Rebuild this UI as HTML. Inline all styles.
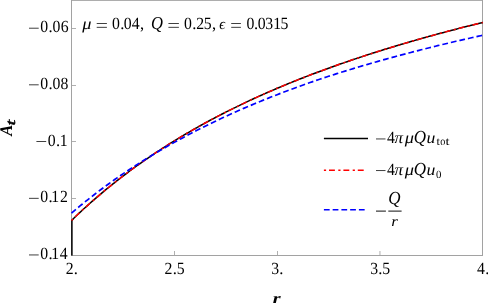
<!DOCTYPE html>
<html><head><meta charset="utf-8"><title>plot</title>
<style>html,body{margin:0;padding:0;background:#fff;}svg{display:block;will-change:transform;}text{font-family:"Liberation Serif",serif;fill:#000;text-rendering:geometricPrecision;}</style></head><body>
<svg width="488" height="304" viewBox="0 0 488 304">
<rect x="0" y="0" width="488" height="304" fill="#fff"/>
<g shape-rendering="crispEdges" fill="#a2a2a2">
<rect x="71" y="0" width="412" height="1" fill="#adadad"/>
<rect x="71" y="255" width="412" height="1"/>
<rect x="71" y="0" width="1" height="256"/>
<rect x="482" y="0" width="1" height="256"/>
<rect x="72" y="28" width="4" height="1" fill="#b0b0b0"/>
<rect x="72" y="85" width="4" height="1" fill="#b0b0b0"/>
<rect x="72" y="141" width="4" height="1" fill="#b0b0b0"/>
<rect x="72" y="198" width="4" height="1" fill="#b0b0b0"/>
<rect x="174" y="251" width="1" height="4" fill="#b0b0b0"/>
<rect x="277" y="251" width="1" height="4" fill="#b0b0b0"/>
</g>
<rect x="379.45" y="251" width="1" height="4" fill="#b0b0b0"/>
<g fill="none" stroke-linejoin="round">
<path d="M71.90 255.50 L71.90 220.45 L73.56 218.46 L75.61 216.49 L77.67 214.54 L79.73 212.61 L81.78 210.70 L83.84 208.81 L85.90 206.94 L87.95 205.09 L90.01 203.25 L92.07 201.43 L94.12 199.63 L96.18 197.85 L98.23 196.09 L100.29 194.34 L102.35 192.61 L104.40 190.89 L106.46 189.19 L108.52 187.51 L110.57 185.84 L112.63 184.19 L114.69 182.55 L116.74 180.93 L118.80 179.32 L120.86 177.73 L122.91 176.15 L124.97 174.59 L127.03 173.04 L129.08 171.50 L131.14 169.98 L133.19 168.47 L135.25 166.98 L137.31 165.50 L139.36 164.03 L141.42 162.57 L143.48 161.13 L145.53 159.70 L147.59 158.28 L149.65 156.88 L151.70 155.48 L153.76 154.10 L155.82 152.73 L157.87 151.37 L159.93 150.02 L161.99 148.69 L164.04 147.36 L166.10 146.05 L168.16 144.74 L170.21 143.45 L172.27 142.17 L174.32 140.90 L176.38 139.64 L178.44 138.38 L180.49 137.14 L182.55 135.91 L184.61 134.69 L186.66 133.48 L188.72 132.28 L190.78 131.09 L192.83 129.90 L194.89 128.73 L196.95 127.57 L199.00 126.41 L201.06 125.26 L203.12 124.13 L205.17 123.00 L207.23 121.88 L209.29 120.77 L211.34 119.66 L213.40 118.57 L215.46 117.48 L217.51 116.40 L219.57 115.33 L221.62 114.27 L223.68 113.22 L225.74 112.17 L227.79 111.13 L229.85 110.10 L231.91 109.08 L233.96 108.06 L236.02 107.05 L238.08 106.05 L240.13 105.06 L242.19 104.07 L244.25 103.09 L246.30 102.12 L248.36 101.15 L250.42 100.19 L252.47 99.24 L254.53 98.29 L256.58 97.35 L258.64 96.42 L260.70 95.50 L262.75 94.58 L264.81 93.66 L266.87 92.76 L268.92 91.86 L270.98 90.96 L273.04 90.07 L275.09 89.19 L277.15 88.31 L279.21 87.44 L281.26 86.58 L283.32 85.72 L285.38 84.87 L287.43 84.02 L289.49 83.18 L291.55 82.34 L293.60 81.51 L295.66 80.69 L297.72 79.87 L299.77 79.05 L301.83 78.24 L303.88 77.44 L305.94 76.64 L308.00 75.85 L310.05 75.06 L312.11 74.28 L314.17 73.50 L316.22 72.72 L318.28 71.96 L320.34 71.19 L322.39 70.43 L324.45 69.68 L326.51 68.93 L328.56 68.19 L330.62 67.45 L332.68 66.71 L334.73 65.98 L336.79 65.25 L338.84 64.53 L340.90 63.81 L342.96 63.10 L345.01 62.39 L347.07 61.68 L349.13 60.98 L351.18 60.28 L353.24 59.58 L355.30 58.89 L357.35 58.20 L359.41 57.52 L361.47 56.84 L363.52 56.16 L365.58 55.49 L367.64 54.82 L369.69 54.15 L371.75 53.49 L373.81 52.83 L375.86 52.17 L377.92 51.52 L379.98 50.88 L382.03 50.23 L384.09 49.59 L386.14 48.95 L388.20 48.32 L390.26 47.69 L392.31 47.06 L394.37 46.44 L396.43 45.82 L398.48 45.20 L400.54 44.59 L402.60 43.98 L404.65 43.37 L406.71 42.77 L408.77 42.16 L410.82 41.57 L412.88 40.97 L414.94 40.38 L416.99 39.79 L419.05 39.21 L421.11 38.62 L423.16 38.04 L425.22 37.47 L427.27 36.89 L429.33 36.32 L431.39 35.76 L433.44 35.19 L435.50 34.63 L437.56 34.07 L439.61 33.51 L441.67 32.96 L443.73 32.41 L445.78 31.86 L447.84 31.32 L449.90 30.77 L451.95 30.23 L454.01 29.70 L456.07 29.16 L458.12 28.63 L460.18 28.10 L462.24 27.57 L464.29 27.05 L466.35 26.53 L468.40 26.01 L470.46 25.49 L472.52 24.98 L474.57 24.46 L476.63 23.96 L478.69 23.45 L480.74 22.94 L482.80 22.44" stroke="#000" stroke-width="1.5"/>
<path d="M71.50 220.45 L73.56 218.46 L75.61 216.49 L77.67 214.54 L79.73 212.61 L81.78 210.70 L83.84 208.81 L85.90 206.94 L87.95 205.09 L90.01 203.25 L92.07 201.43 L94.12 199.63 L96.18 197.85 L98.23 196.09 L100.29 194.34 L102.35 192.61 L104.40 190.89 L106.46 189.19 L108.52 187.51 L110.57 185.84 L112.63 184.19 L114.69 182.55 L116.74 180.93 L118.80 179.32 L120.86 177.73 L122.91 176.15 L124.97 174.59 L127.03 173.04 L129.08 171.50 L131.14 169.98 L133.19 168.47 L135.25 166.98 L137.31 165.50 L139.36 164.03 L141.42 162.57 L143.48 161.13 L145.53 159.70 L147.59 158.28 L149.65 156.88 L151.70 155.48 L153.76 154.10 L155.82 152.73 L157.87 151.37 L159.93 150.02 L161.99 148.69 L164.04 147.36 L166.10 146.05 L168.16 144.74 L170.21 143.45 L172.27 142.17 L174.32 140.90 L176.38 139.64 L178.44 138.38 L180.49 137.14 L182.55 135.91 L184.61 134.69 L186.66 133.48 L188.72 132.28 L190.78 131.09 L192.83 129.90 L194.89 128.73 L196.95 127.57 L199.00 126.41 L201.06 125.26 L203.12 124.13 L205.17 123.00 L207.23 121.88 L209.29 120.77 L211.34 119.66 L213.40 118.57 L215.46 117.48 L217.51 116.40 L219.57 115.33 L221.62 114.27 L223.68 113.22 L225.74 112.17 L227.79 111.13 L229.85 110.10 L231.91 109.08 L233.96 108.06 L236.02 107.05 L238.08 106.05 L240.13 105.06 L242.19 104.07 L244.25 103.09 L246.30 102.12 L248.36 101.15 L250.42 100.19 L252.47 99.24 L254.53 98.29 L256.58 97.35 L258.64 96.42 L260.70 95.50 L262.75 94.58 L264.81 93.66 L266.87 92.76 L268.92 91.86 L270.98 90.96 L273.04 90.07 L275.09 89.19 L277.15 88.31 L279.21 87.44 L281.26 86.58 L283.32 85.72 L285.38 84.87 L287.43 84.02 L289.49 83.18 L291.55 82.34 L293.60 81.51 L295.66 80.69 L297.72 79.87 L299.77 79.05 L301.83 78.24 L303.88 77.44 L305.94 76.64 L308.00 75.85 L310.05 75.06 L312.11 74.28 L314.17 73.50 L316.22 72.72 L318.28 71.96 L320.34 71.19 L322.39 70.43 L324.45 69.68 L326.51 68.93 L328.56 68.19 L330.62 67.45 L332.68 66.71 L334.73 65.98 L336.79 65.25 L338.84 64.53 L340.90 63.81 L342.96 63.10 L345.01 62.39 L347.07 61.68 L349.13 60.98 L351.18 60.28 L353.24 59.58 L355.30 58.89 L357.35 58.20 L359.41 57.52 L361.47 56.84 L363.52 56.16 L365.58 55.49 L367.64 54.82 L369.69 54.15 L371.75 53.49 L373.81 52.83 L375.86 52.17 L377.92 51.52 L379.98 50.88 L382.03 50.23 L384.09 49.59 L386.14 48.95 L388.20 48.32 L390.26 47.69 L392.31 47.06 L394.37 46.44 L396.43 45.82 L398.48 45.20 L400.54 44.59 L402.60 43.98 L404.65 43.37 L406.71 42.77 L408.77 42.16 L410.82 41.57 L412.88 40.97 L414.94 40.38 L416.99 39.79 L419.05 39.21 L421.11 38.62 L423.16 38.04 L425.22 37.47 L427.27 36.89 L429.33 36.32 L431.39 35.76 L433.44 35.19 L435.50 34.63 L437.56 34.07 L439.61 33.51 L441.67 32.96 L443.73 32.41 L445.78 31.86 L447.84 31.32 L449.90 30.77 L451.95 30.23 L454.01 29.70 L456.07 29.16 L458.12 28.63 L460.18 28.10 L462.24 27.57 L464.29 27.05 L466.35 26.53 L468.40 26.01 L470.46 25.49 L472.52 24.98 L474.57 24.46 L476.63 23.96 L478.69 23.45 L480.74 22.94 L482.80 22.44" stroke="#ff0000" stroke-width="1.5" stroke-dasharray="2.2 2.9 5.9 3.4"/>
<path d="M71.50 213.12 L73.56 211.37 L75.61 209.63 L77.67 207.91 L79.73 206.20 L81.78 204.51 L83.84 202.84 L85.90 201.18 L87.95 199.54 L90.01 197.92 L92.07 196.31 L94.12 194.72 L96.18 193.14 L98.23 191.57 L100.29 190.02 L102.35 188.49 L104.40 186.97 L106.46 185.46 L108.52 183.97 L110.57 182.49 L112.63 181.02 L114.69 179.57 L116.74 178.13 L118.80 176.70 L120.86 175.29 L122.91 173.89 L124.97 172.50 L127.03 171.12 L129.08 169.76 L131.14 168.41 L133.19 167.07 L135.25 165.74 L137.31 164.42 L139.36 163.11 L141.42 161.82 L143.48 160.53 L145.53 159.26 L147.59 158.00 L149.65 156.74 L151.70 155.50 L153.76 154.27 L155.82 153.04 L157.87 151.81 L159.93 150.60 L161.99 149.40 L164.04 148.20 L166.10 147.02 L168.16 145.84 L170.21 144.68 L172.27 143.52 L174.32 142.38 L176.38 141.24 L178.44 140.11 L180.49 138.99 L182.55 137.88 L184.61 136.77 L186.66 135.68 L188.72 134.59 L190.78 133.52 L192.83 132.45 L194.89 131.38 L196.95 130.33 L199.00 129.29 L201.06 128.25 L203.12 127.22 L205.17 126.20 L207.23 125.18 L209.29 124.18 L211.34 123.18 L213.40 122.18 L215.46 121.20 L217.51 120.22 L219.57 119.25 L221.62 118.29 L223.68 117.33 L225.74 116.38 L227.79 115.44 L229.85 114.50 L231.91 113.57 L233.96 112.65 L236.02 111.73 L238.08 110.82 L240.13 109.92 L242.19 109.02 L244.25 108.13 L246.30 107.24 L248.36 106.37 L250.42 105.49 L252.47 104.63 L254.53 103.76 L256.58 102.91 L258.64 102.06 L260.70 101.22 L262.75 100.38 L264.81 99.55 L266.87 98.72 L268.92 97.90 L270.98 97.08 L273.04 96.27 L275.09 95.47 L277.15 94.67 L279.21 93.87 L281.26 93.08 L283.32 92.30 L285.38 91.52 L287.43 90.74 L289.49 89.98 L291.55 89.21 L293.60 88.45 L295.66 87.70 L297.72 86.95 L299.77 86.20 L301.83 85.46 L303.88 84.73 L305.94 84.00 L308.00 83.27 L310.05 82.55 L312.11 81.83 L314.17 81.12 L316.22 80.41 L318.28 79.70 L320.34 79.02 L322.39 78.33 L324.45 77.65 L326.51 76.98 L328.56 76.31 L330.62 75.64 L332.68 74.98 L334.73 74.32 L336.79 73.67 L338.84 73.02 L340.90 72.37 L342.96 71.73 L345.01 71.09 L347.07 70.45 L349.13 69.82 L351.18 69.19 L353.24 68.57 L355.30 67.95 L357.35 67.33 L359.41 66.72 L361.47 66.11 L363.52 65.51 L365.58 64.90 L367.64 64.31 L369.69 63.71 L371.75 63.12 L373.81 62.53 L375.86 61.95 L377.92 61.36 L379.98 60.79 L382.03 60.21 L384.09 59.64 L386.14 59.07 L388.20 58.51 L390.26 57.94 L392.31 57.38 L394.37 56.83 L396.43 56.28 L398.48 55.73 L400.54 55.18 L402.60 54.63 L404.65 54.08 L406.71 53.54 L408.77 52.99 L410.82 52.46 L412.88 51.92 L414.94 51.39 L416.99 50.86 L419.05 50.33 L421.11 49.80 L423.16 49.28 L425.22 48.76 L427.27 48.25 L429.33 47.73 L431.39 47.22 L433.44 46.71 L435.50 46.21 L437.56 45.70 L439.61 45.20 L441.67 44.71 L443.73 44.21 L445.78 43.72 L447.84 43.23 L449.90 42.74 L451.95 42.25 L454.01 41.77 L456.07 41.29 L458.12 40.81 L460.18 40.34 L462.24 39.86 L464.29 39.39 L466.35 38.93 L468.40 38.46 L470.46 38.00 L472.52 37.53 L474.57 37.08 L476.63 36.62 L478.69 36.16 L480.74 35.71 L482.80 35.26" stroke="#0000ff" stroke-width="1.7" stroke-dasharray="5.75 3"/>
<path d="M323.9 138.6 H368" stroke="#000" stroke-width="1.5"/>
<path d="M323.9 170.25 H364.2" stroke="#ff0000" stroke-width="1.5" stroke-dasharray="2.2 2.9 5.9 3.4"/>
<path d="M323.9 209.75 H364.7" stroke="#0000ff" stroke-width="1.7" stroke-dasharray="5.75 3"/>
</g>
<rect x="29.00" y="27.78" width="9.70" height="0.75" fill="#000"/>
<text transform="translate(40.90 32.35) scale(0.9500 1.0300)" x="-0.62" y="0" font-size="16.60">0</text>
<text x="48.52" y="32.35" font-size="16.60">.</text>
<text transform="translate(53.20 32.35) scale(0.9500 1.0300)" x="-0.62" y="0" font-size="16.60">0</text>
<text transform="translate(61.40 32.35) scale(0.9500 1.0300)" x="-0.71" y="0" font-size="16.60">6</text>
<rect x="29.00" y="84.48" width="9.70" height="0.75" fill="#000"/>
<text transform="translate(40.90 89.05) scale(0.9500 1.0300)" x="-0.62" y="0" font-size="16.60">0</text>
<text x="48.52" y="89.05" font-size="16.60">.</text>
<text transform="translate(53.20 89.05) scale(0.9500 1.0300)" x="-0.62" y="0" font-size="16.60">0</text>
<text transform="translate(61.10 89.05) scale(0.9500 1.0300)" x="-0.62" y="0" font-size="16.60">8</text>
<rect x="36.40" y="141.18" width="9.80" height="0.75" fill="#000"/>
<text transform="translate(48.45 145.75) scale(0.9500 1.0300)" x="-0.62" y="0" font-size="16.60">0</text>
<text x="56.02" y="145.75" font-size="16.60">.</text>
<text transform="translate(61.10 145.75) scale(0.9500 1.0300)" x="-1.45" y="0" font-size="16.60">1</text>
<rect x="29.00" y="197.88" width="9.70" height="0.75" fill="#000"/>
<text transform="translate(40.90 202.45) scale(0.9500 1.0300)" x="-0.62" y="0" font-size="16.60">0</text>
<text x="48.52" y="202.45" font-size="16.60">.</text>
<text transform="translate(52.70 202.45) scale(0.9500 1.0300)" x="-1.45" y="0" font-size="16.60">1</text>
<text transform="translate(60.80 202.45) scale(0.9500 1.0300)" x="-0.75" y="0" font-size="16.60">2</text>
<rect x="29.00" y="254.58" width="9.70" height="0.75" fill="#000"/>
<text transform="translate(40.90 259.15) scale(0.9500 1.0300)" x="-0.62" y="0" font-size="16.60">0</text>
<text x="48.52" y="259.15" font-size="16.60">.</text>
<text transform="translate(52.70 259.15) scale(0.9500 1.0300)" x="-1.45" y="0" font-size="16.60">1</text>
<text transform="translate(60.00 259.15) scale(0.9500 1.0300)" x="-0.33" y="0" font-size="16.60">4</text>
<text transform="translate(66.50 274.00) scale(0.9500 1.0300)" x="-0.75" y="0" font-size="16.60">2</text>
<text x="73.72" y="274.00" font-size="16.60">.</text>
<text transform="translate(165.32 274.00) scale(0.9500 1.0300)" x="-0.75" y="0" font-size="16.60">2</text>
<text x="172.65" y="274.00" font-size="16.60">.</text>
<text transform="translate(177.52 274.00) scale(0.9500 1.0300)" x="-0.95" y="0" font-size="16.60">5</text>
<text transform="translate(271.95 274.00) scale(0.9500 1.0300)" x="-0.79" y="0" font-size="16.60">3</text>
<text x="279.37" y="274.00" font-size="16.60">.</text>
<text transform="translate(370.98 274.00) scale(0.9500 1.0300)" x="-0.79" y="0" font-size="16.60">3</text>
<text x="378.30" y="274.00" font-size="16.60">.</text>
<text transform="translate(383.18 274.00) scale(0.9500 1.0300)" x="-0.95" y="0" font-size="16.60">5</text>
<text transform="translate(477.40 274.00) scale(0.9500 1.0300)" x="-0.33" y="0" font-size="16.60">4</text>
<text x="485.22" y="274.00" font-size="16.60">.</text>
<text transform="translate(82.20 29.25) scale(1.1082 1.0000)" x="-0.00" y="0" font-size="16.60" font-style="italic">μ</text>
<text transform="translate(112.60 29.25) scale(0.9500 1.0300)" x="-0.62" y="0" font-size="16.60">0</text>
<text x="120.32" y="29.25" font-size="16.60">.</text>
<text transform="translate(124.40 29.25) scale(0.9500 1.0300)" x="-0.62" y="0" font-size="16.60">0</text>
<text transform="translate(132.00 29.25) scale(0.9500 1.0300)" x="-0.33" y="0" font-size="16.60">4</text>
<text x="139.88" y="29.25" font-size="16.60">,</text>
<text transform="translate(151.80 29.25) scale(0.9955 1.1000)" x="-0.91" y="0" font-size="16.60" font-style="italic">Q</text>
<text transform="translate(184.60 29.25) scale(0.9500 1.0300)" x="-0.62" y="0" font-size="16.60">0</text>
<text x="192.22" y="29.25" font-size="16.60">.</text>
<text transform="translate(196.90 29.25) scale(0.9500 1.0300)" x="-0.75" y="0" font-size="16.60">2</text>
<text transform="translate(204.70 29.25) scale(0.9500 1.0300)" x="-0.95" y="0" font-size="16.60">5</text>
<text x="211.88" y="29.25" font-size="16.60">,</text>
<text transform="translate(219.80 29.25) scale(0.8776 0.9300)" x="-0.50" y="0" font-size="16.60" font-style="italic">ϵ</text>
<text transform="translate(247.10 29.25) scale(0.9500 1.0300)" x="-0.62" y="0" font-size="16.60">0</text>
<text x="254.02" y="29.25" font-size="16.60">.</text>
<text transform="translate(258.40 29.25) scale(0.9500 1.0300)" x="-0.62" y="0" font-size="16.60">0</text>
<text transform="translate(266.00 29.25) scale(0.9500 1.0300)" x="-0.79" y="0" font-size="16.60">3</text>
<text transform="translate(274.50 29.25) scale(0.9500 1.0300)" x="-1.45" y="0" font-size="16.60">1</text>
<text transform="translate(281.30 29.25) scale(0.9500 1.0300)" x="-0.95" y="0" font-size="16.60">5</text>
<rect x="96.70" y="23.17" width="10.20" height="0.75" fill="#000"/>
<rect x="96.70" y="26.88" width="10.20" height="0.75" fill="#000"/>
<rect x="168.40" y="23.17" width="10.50" height="0.75" fill="#000"/>
<rect x="168.40" y="26.88" width="10.50" height="0.75" fill="#000"/>
<rect x="231.20" y="23.17" width="9.70" height="0.75" fill="#000"/>
<rect x="231.20" y="26.88" width="9.70" height="0.75" fill="#000"/>
<rect x="376.00" y="138.58" width="9.50" height="0.75" fill="#000"/>
<text transform="translate(387.20 143.30) scale(0.9500 1.0300)" x="-0.33" y="0" font-size="16.60">4</text>
<text transform="translate(394.70 143.30) scale(1.0244 1.0000)" x="-0.08" y="0" font-size="16.60" font-style="italic">π</text>
<text transform="translate(404.70 143.30) scale(1.1082 1.0000)" x="-0.00" y="0" font-size="16.60" font-style="italic">μ</text>
<text transform="translate(414.80 143.30) scale(1.0234 1.1100)" x="-0.91" y="0" font-size="16.60" font-style="italic">Q</text>
<text transform="translate(427.30 143.30) scale(1.0661 1.0000)" x="-0.83" y="0" font-size="16.60" font-style="italic">u</text>
<text transform="translate(436.70 145.40) scale(1.0600 1.0000)" x="-0.12" y="0" font-size="11.50">t</text>
<text transform="translate(440.70 145.40) scale(0.8798 1.0000)" x="-0.43" y="0" font-size="11.50">o</text>
<text transform="translate(445.70 145.40) scale(1.2588 1.0000)" x="-0.12" y="0" font-size="11.50">t</text>
<rect x="376.00" y="170.28" width="9.50" height="0.75" fill="#000"/>
<text transform="translate(387.20 175.00) scale(0.9500 1.0300)" x="-0.33" y="0" font-size="16.60">4</text>
<text transform="translate(394.70 175.00) scale(1.0244 1.0000)" x="-0.08" y="0" font-size="16.60" font-style="italic">π</text>
<text transform="translate(404.70 175.00) scale(1.1082 1.0000)" x="-0.00" y="0" font-size="16.60" font-style="italic">μ</text>
<text transform="translate(414.80 175.00) scale(1.0234 1.1100)" x="-0.91" y="0" font-size="16.60" font-style="italic">Q</text>
<text transform="translate(427.30 175.00) scale(1.0661 1.0000)" x="-0.83" y="0" font-size="16.60" font-style="italic">u</text>
<text transform="translate(436.40 177.60) scale(0.9840 1.0000)" x="-0.41" y="0" font-size="11.00">0</text>
<rect x="376.00" y="210.62" width="9.90" height="0.95" fill="#000"/>
<rect x="388.30" y="210.62" width="13.30" height="0.95" fill="#000"/>
<text transform="translate(389.20 204.00) scale(1.0234 1.1100)" x="-0.91" y="0" font-size="16.60" font-style="italic">Q</text>
<text transform="translate(391.80 225.80) scale(1.0254 0.8800)" x="-0.66" y="0" font-size="16.60" font-style="italic">r</text>
<text transform="translate(273.20 302.70) scale(1.2283 0.9000)" x="-0.33" y="0" font-size="16.50" font-style="italic" font-weight="bold">r</text>
<g transform="translate(12.3 136.3) rotate(-90)">
<text transform="translate(-0.30 0.00) scale(0.9724 1.0500)" x="0.89" y="0" font-size="17.00" font-style="italic" font-weight="bold">A</text>
<text transform="translate(11.60 2.20) scale(1.5842 1.0000)" x="-0.58" y="0" font-size="13.00" font-style="italic" stroke="#000" stroke-width="0.45">t</text>
</g>
</svg></body></html>
